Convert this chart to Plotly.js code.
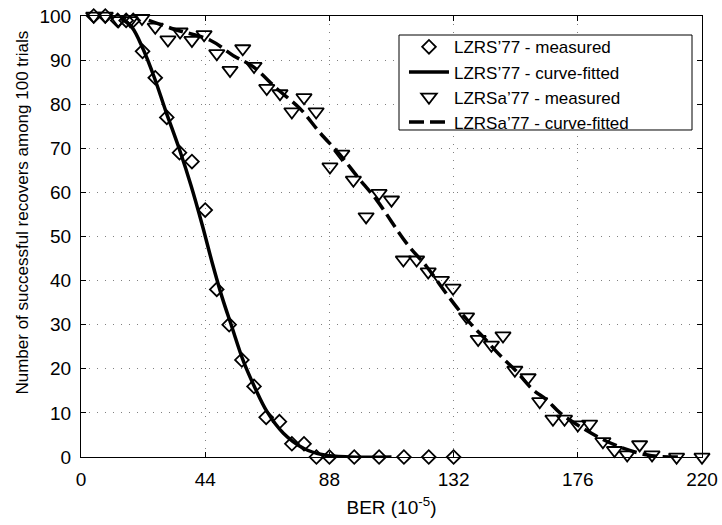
<!DOCTYPE html>
<html>
<head>
<meta charset="utf-8">
<script src="https://cdn.plot.ly/plotly-3.0.1.min.js"></script>
<style>html,body{margin:0;padding:0;background:#fff;}</style>
</head>
<body>
<div id="chart" style="width:722px;height:525px;"></div>
<script>
// LZRS'77 measured (diamonds)
const lzrsX = [4.5, 8.6, 13, 16, 18.5, 21.8, 26.3, 30.4, 34.9, 39.3, 44, 48.1, 52.5, 57, 61.3, 65.6, 70.3, 74.7, 79, 83.4, 88, 96.8, 105.6, 114.4, 123.2, 132];
const lzrsY = [100, 100, 99, 99, 99, 92, 86, 77, 69, 67, 56, 38, 30, 22, 16, 9, 8, 3, 3, 0, 0, 0, 0, 0, 0, 0];
// LZRS'77 curve-fitted (solid)
const lzrsFitX = [14, 18, 22, 26, 30, 35, 39, 43, 46.5, 50, 53.4, 57.5, 61.7, 65.8, 71.7, 78.8, 85.8, 95, 110];
const lzrsFitY = [99.5, 97.5, 92.5, 86, 78.5, 69.5, 61.5, 52.5, 44, 36.2, 29.6, 21.8, 15.6, 10.4, 5.4, 2, 0.5, 0, 0];
// LZRSa'77 measured (triangles)
const lzrsaX = [4.5, 8.6, 13.3, 17.4, 21.6, 26.3, 30.8, 35.1, 39.3, 43.6, 48.1, 52.8, 57.3, 61.3, 65.8, 70.5, 74.7, 79, 83.3, 88.2, 92.4, 96.5, 101, 105.6, 110, 114.2, 118.9, 123, 127.7, 131.8, 136.6, 140.7, 145.4, 149.5, 153.7, 158.4, 162.5, 167.2, 171.3, 176, 180.2, 184.9, 189, 193.5, 197.9, 202.3, 211, 220];
const lzrsaY = [100, 100, 99, 99, 99.5, 97.5, 94.6, 96.4, 94.5, 95.8, 91.5, 87.7, 92.6, 88.6, 83.6, 82.4, 78.3, 81.5, 78.3, 65.8, 68.7, 62.8, 54.5, 59.8, 58.3, 44.7, 44.7, 42, 40.1, 38.3, 31.8, 26.7, 25.4, 27.5, 19.7, 18, 12.6, 8.6, 8.6, 7.3, 7.5, 3.5, 1.5, 0.5, 2.8, 0.5, 0, 0];
// LZRSa'77 curve-fitted (dashed)
const lzrsaFitX = [24, 33, 45.8, 54, 61, 69.4, 77.6, 84.7, 91.8, 98, 104.7, 115.3, 122.4, 129.5, 134.8, 138.9, 142.4, 146.6, 150.1, 153.7, 160.2, 164.9, 169.7, 176.8, 183.9, 192, 200.3, 205, 212];
const lzrsaFitY = [99, 97, 94.5, 91, 88.5, 83.5, 79, 73.5, 68.5, 63.5, 58.3, 48.5, 43.2, 37, 32.6, 29.6, 27.3, 24.3, 22, 19.8, 15.2, 13, 10, 6.9, 4.3, 2, 0.5, 0.1, 0];

const xTicks = [0, 44, 88, 132, 176, 220];
const yTicks = [0, 10, 20, 30, 40, 50, 60, 70, 80, 90, 100];
const names = ["LZRS\u201977 - measured", "LZRS\u201977 - curve-fitted", "LZRSa\u201977 - measured", "LZRSa\u201977 - curve-fitted"];

const FONT = "Liberation Sans, Arial, Helvetica, sans-serif";

const traces = [
  {x: lzrsX, y: lzrsY, mode: "markers", name: names[0], cliponaxis: false,
   marker: {symbol: "diamond-open", size: 10.5, color: "black", line: {width: 1.8, color: "black"}}},
  {x: lzrsFitX, y: lzrsFitY, mode: "lines", name: names[1], cliponaxis: false,
   line: {color: "black", width: 3.5, shape: "spline", smoothing: 1}},
  {x: lzrsaX, y: lzrsaY, mode: "markers", name: names[2], cliponaxis: false,
   marker: {symbol: "triangle-down-open", size: 13.5, color: "black", line: {width: 1.8, color: "black"}}},
  {x: lzrsaFitX, y: lzrsaFitY, mode: "lines", name: names[3], cliponaxis: false,
   line: {color: "black", width: 3.5, dash: "15px,6px", shape: "spline", smoothing: 1}}
];

const axisCommon = {
  showline: true, linecolor: "black", linewidth: 1, mirror: "ticks",
  ticks: "inside", ticklen: 5, tickcolor: "black", tickwidth: 1,
  showgrid: true, gridcolor: "#808080", gridwidth: 1, griddash: "1px,7px",
  zeroline: false, tickfont: {family: FONT, size: 19, color: "black"}
};

const layout = {
  width: 722, height: 525,
  margin: {l: 81, r: 20, t: 16, b: 68},
  paper_bgcolor: "white", plot_bgcolor: "white",
  font: {family: FONT, color: "black"},
  showlegend: true,
  xaxis: Object.assign({}, axisCommon, {
    range: [0, 220], tickvals: xTicks, ticktext: xTicks.map(String),
    ticklabelstandoff: 5,
    title: {text: "BER (10<sup>-5</sup>)", font: {family: FONT, size: 19, color: "black"}, standoff: 11}
  }),
  yaxis: Object.assign({}, axisCommon, {
    range: [0, 100], tickvals: yTicks, ticktext: yTicks.map(String),
    ticklabelstandoff: 5
  }),
  annotations: [{
    text: "Number of successful recovers among 100 trials",
    xref: "paper", yref: "paper", x: -0.0945, y: 0.555,
    xanchor: "center", yanchor: "middle", textangle: -90, showarrow: false,
    font: {family: FONT, size: 17, color: "black"}
  }],
  shapes: [{
    type: "rect", xref: "paper", yref: "paper", layer: "above",
    x0: 0.5121, x1: 0.9839, y0: 0.7415, y1: 0.9569,
    fillcolor: "white", line: {color: "black", width: 1}
  }],
  legend: {
    x: 0.5201, y: 0.970, xanchor: "left", yanchor: "top",
    bgcolor: "rgba(0,0,0,0)", borderwidth: 0,
    font: {family: FONT, size: 17, color: "black"},
    tracegroupgap: 0, itemwidth: 40
  }
};

Plotly.newPlot("chart", traces, layout, {staticPlot: true, displayModeBar: false});
</script>
</body>
</html>
